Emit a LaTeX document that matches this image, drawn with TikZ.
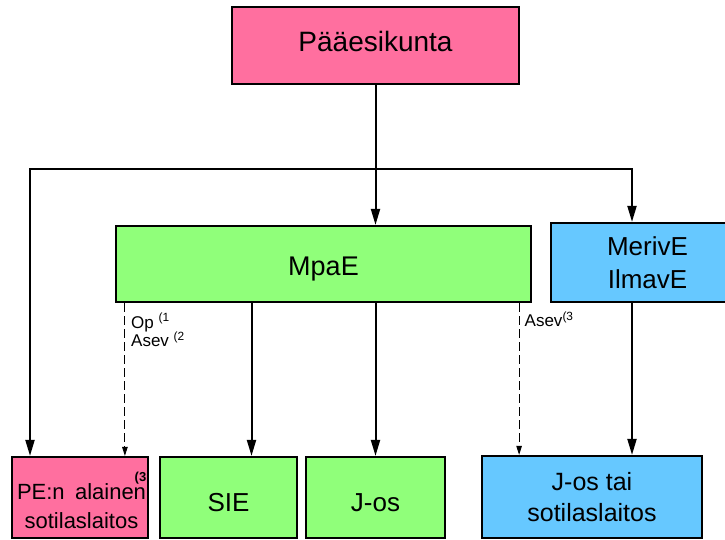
\documentclass[tikz,border=0pt]{standalone}
\usepackage{fontspec}
\setmainfont{Liberation Sans}
\usepackage{xcolor}
\usetikzlibrary{arrows.meta}
\definecolor{pinkki}{HTML}{FF6F9F}
\definecolor{vihrea}{HTML}{90FF7A}
\definecolor{sininen}{HTML}{66C8FF}

\begin{document}
\begin{tikzpicture}[x=1pt, y=-1pt,
    box/.style={draw=black, line width=2.2pt, inner sep=0pt, align=center},
    arr/.style={-{Triangle[length=16pt,width=9pt]}, line width=2pt},
    darr/.style={-{Triangle[length=9pt,width=5.5pt]}, line width=0.9pt, dash pattern=on 9pt off 4pt},
    lbl/.style={inner sep=0pt, anchor=base west, font=\fontsize{17}{20}\selectfont}]
\useasboundingbox (0,0) rectangle (725,540);
\node[box, fill=pinkki, minimum width=287pt, minimum height=77pt, text height=20pt, text depth=7.6pt,
    font=\fontsize{28}{28}\selectfont] (pe) at (375.5,45.5) {Pääesikunta};
\node[box, fill=vihrea, minimum width=415pt, minimum height=76pt, text height=22pt, text depth=0pt,
    font=\fontsize{27}{27}\selectfont] (mpae) at (323.5,264) {MpaE};
\node[box, fill=sininen, minimum width=193pt, minimum height=79pt,
    font=\fontsize{26}{33}\selectfont] (meriv) at (647.5,262.5) {MerivE\\IlmavE};
\node[box, fill=pinkki, minimum width=136pt, minimum height=81pt] (peal) at (80,497.5) {};
\node[inner sep=0pt, align=center, font=\fontsize{22}{29}\selectfont] (pealteksti) at (81.5,506.5)
    {\makebox[129pt][s]{PE:n alainen}\\sotilaslaitos};
\node[inner sep=0pt, anchor=base east, font=\bfseries\fontsize{13}{14}\selectfont] (pealviite) at (146.5,481) {(3};
\foreach \nimi/\x/\w/\teksti in {sie/228.5/137/SIE, jos/375.5/139/J-os} {
    \node[box, fill=vihrea, minimum width=\w pt, minimum height=81pt, text height=28.4pt, text depth=0pt,
        font=\fontsize{26}{26}\selectfont] (\nimi) at (\x,497.5) {\teksti};
}
\node[box, fill=sininen, minimum width=220pt, minimum height=82pt,
    font=\fontsize{25}{31}\selectfont] (jostai) at (592,497) {J-os tai\\sotilaslaitos};
\coordinate (lhaara) at (30,169);
\coordinate (rhaara) at (632,169);
\coordinate (split) at (pe.south |- lhaara);
\draw[arr] (pe.south) -- (pe.south |- mpae.north);
\draw[arr] (split) -- (lhaara) -- (lhaara |- peal.north);
\draw[arr] (split) -- (rhaara) -- (rhaara |- meriv.north);
\draw[arr] (rhaara |- meriv.south) -- (rhaara |- jostai.north);
\draw[arr] ([xshift=-72pt]mpae.south) -- ([xshift=-72pt]mpae.south |- sie.north);
\draw[arr] (mpae.south -| jos.north) -- (jos.north);
\draw[darr] ([xshift=10pt]mpae.south west) -- ([xshift=10pt]mpae.south west |- peal.north);
\draw[darr] ([xshift=-13pt]mpae.south east) -- ([xshift=-13pt]mpae.south east |- jostai.north);
\node[lbl] (op) at (131,328) {Op \textsuperscript{(1}};
\node[lbl] (asevb) at (131,346.7) {Asev \textsuperscript{(2}};
\node[lbl] (asevc) at (524.5,326.7) {Asev\textsuperscript{(3}};
\end{tikzpicture}
\end{document}
